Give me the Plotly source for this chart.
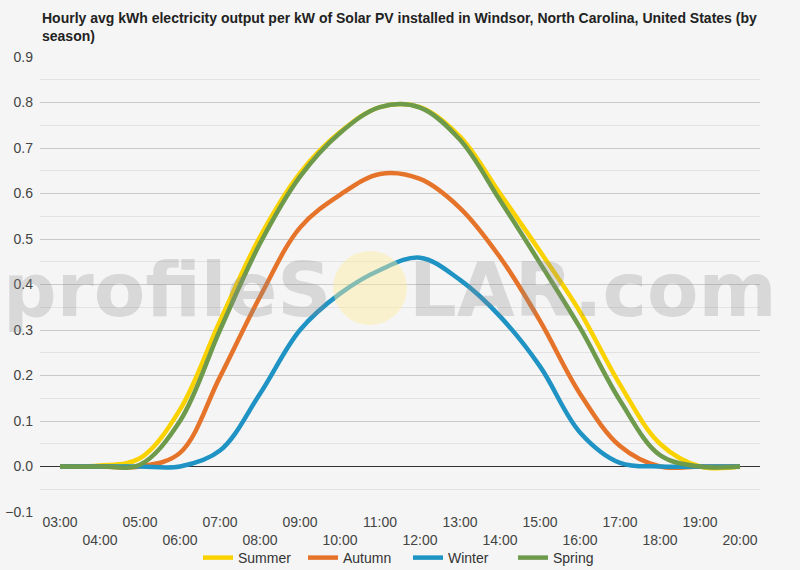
import plotly.graph_objects as go

hours = ["03:00", "04:00", "05:00", "06:00", "07:00", "08:00", "09:00", "10:00", "11:00",
         "12:00", "13:00", "14:00", "15:00", "16:00", "17:00", "18:00", "19:00", "20:00"]

summer = [0, 0.002, 0.018, 0.125, 0.32, 0.505, 0.645, 0.735, 0.79, 0.79, 0.725, 0.60, 0.473, 0.34, 0.18, 0.05, 0, 0]
autumn = [0, 0, 0, 0.03, 0.197, 0.373, 0.525, 0.597, 0.643, 0.632, 0.568, 0.46, 0.32, 0.16, 0.045, 0, 0, 0]
winter = [0, 0, 0, 0, 0.035, 0.16, 0.30, 0.38, 0.432, 0.459, 0.41, 0.33, 0.22, 0.075, 0.008, 0, 0, 0]
spring = [0, 0, 0.004, 0.10, 0.30, 0.49, 0.637, 0.733, 0.79, 0.789, 0.718, 0.585, 0.447, 0.305, 0.145, 0.025, 0, 0]

series = [
    ("Summer", summer, "#FAD200"),
    ("Autumn", autumn, "#E5742A"),
    ("Winter", winter, "#1F93C4"),
    ("Spring", spring, "#6E9A4C"),
]

title_text = ("<b>Hourly avg kWh electricity output per kW of Solar PV installed in Windsor, North Carolina, "
              "United States (by<br>season)</b>")

fig = go.Figure()
for name, vals, color in series:
    fig.add_trace(go.Scatter(
        x=hours, y=vals, name=name, mode="lines",
        line=dict(color=color, width=4.5, shape="spline", smoothing=1.0),
    ))

# staggered tick labels
ticktext = [h if i % 2 == 0 else "<br>" + h for i, h in enumerate(hours)]

W, H = 800, 570
L, R, T, B = 40, 40, 57, 58
pw, ph = W - L - R, H - T - B


def px_x(x):
    return (x - L) / pw


def px_y(y):
    return (H - B - y) / ph


bg = "#f5f5f5"
fig.update_layout(
    width=W, height=H,
    margin=dict(l=L, r=R, t=T, b=B, autoexpand=False),
    paper_bgcolor=bg, plot_bgcolor=bg,
    font=dict(family="Liberation Sans, Arial, sans-serif", size=14, color="#444"),
    showlegend=True,
    legend=dict(orientation="h", x=px_x(408), xanchor="center", y=px_y(558), yanchor="middle",
                font=dict(size=14, color="#333"), bgcolor="rgba(0,0,0,0)",
                entrywidth=60, entrywidthmode="pixels"),
    xaxis=dict(type="category", categoryorder="array", categoryarray=hours,
               tickmode="array", tickvals=hours, ticktext=ticktext,
               range=[-0.5, len(hours) - 0.5], showgrid=False, zeroline=False,
               showline=False, ticks="", automargin=False, fixedrange=True,
               tickfont=dict(size=14, color="#444")),
    yaxis=dict(range=[-0.1, 0.9], dtick=0.1, tick0=0, tickformat=".1f",
               showgrid=True, gridcolor="#c9c9c9", gridwidth=1,
               zeroline=True, zerolinecolor="#333", zerolinewidth=1,
               minor=dict(dtick=0.05, tick0=0, showgrid=True, gridcolor="#e2e2e2", gridwidth=1),
               ticks="", automargin=False, showline=False, fixedrange=True,
               ticklabelstandoff=6,
               tickfont=dict(size=14, color="#444")),
)

# title
fig.add_annotation(text=title_text, xref="paper", yref="paper", x=px_x(40), y=px_y(8),
                   xanchor="left", yanchor="top", align="left", showarrow=False,
                   font=dict(family="Liberation Sans, Arial, sans-serif", size=14, color="#222"))

# watermark
wm_font = dict(family="DejaVu Sans, sans-serif", size=75, color="rgba(140,140,140,0.28)", weight="bold")
fig.add_annotation(text="profileS", xref="paper", yref="paper", x=px_x(333), y=px_y(290),
                   xanchor="right", yanchor="middle", showarrow=False, font=wm_font)
fig.add_annotation(text="LAR.com", xref="paper", yref="paper", x=px_x(407), y=px_y(290),
                   xanchor="left", yanchor="middle", showarrow=False, font=wm_font)
fig.add_shape(type="circle", xref="paper", yref="paper",
              x0=px_x(333), x1=px_x(407), y0=px_y(325), y1=px_y(251),
              fillcolor="rgba(255,238,160,0.45)", line=dict(width=0), layer="above")

fig.write_html("out.html")
